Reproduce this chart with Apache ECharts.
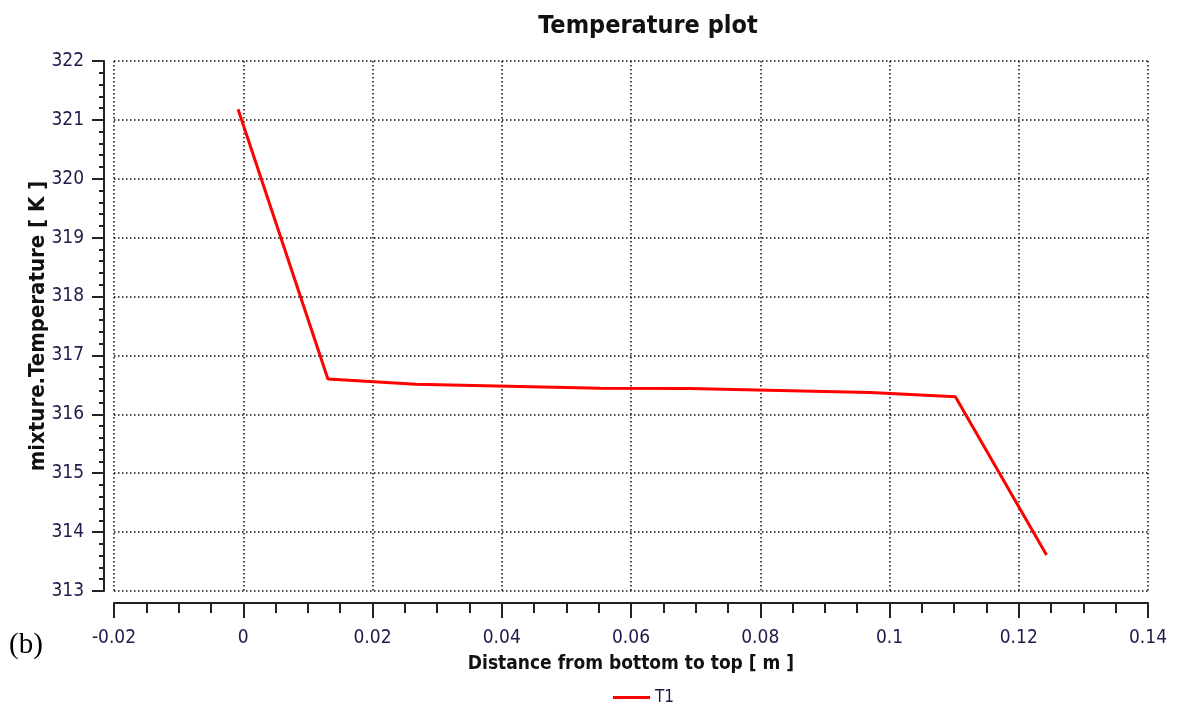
<!DOCTYPE html>
<html>
<head>
<meta charset="utf-8">
<script src="https://cdn.jsdelivr.net/npm/echarts@6/dist/echarts.min.js"></script>
<style>html,body{margin:0;padding:0;background:#fff}#c{width:1179px;height:710px}</style>
</head>
<body>
<div id="c"></div>
<script>
const distance = [-0.0008, 0.0131, 0.0267, 0.0553, 0.069, 0.097, 0.1102, 0.1243];
const temperature = [321.18, 316.60, 316.51, 316.445, 316.44, 316.37, 316.30, 313.61];
const seriesName = 'T1';
const titleText = 'Temperature plot';
const xName = 'Distance from bottom to top [ m ]';
const yName = 'mixture.Temperature [ K ]';
const panelLabel = '(b)';

const narrow = "'Liberation Sans Narrow', 'DejaVu Sans Condensed', sans-serif";
const labelColor = '#1c1c4c';
const chart = echarts.init(document.getElementById('c'));
chart.setOption({
  animation: false,
  backgroundColor: '#fff',
  title: {
    text: titleText, left: 643, top: 9, textAlign: 'center',
    textStyle: {fontFamily: narrow, fontWeight: 'bold', fontSize: 25, color: '#111'}
  },
  grid: {left: 114, right: 31, top: 61, bottom: 119},
  legend: {
    left: 608, top: 684, itemWidth: 37, itemHeight: 3, icon: 'rect', itemGap: 10,
    textStyle: {fontFamily: narrow, fontSize: 17, color: labelColor},
    data: [seriesName]
  },
  graphic: [{
    type: 'text', left: 9, top: 631,
    style: {text: panelLabel, font: "29px 'Liberation Serif', serif", fill: '#000'}
  }],
  xAxis: {
    type: 'value', min: -0.02, max: 0.14, interval: 0.02, offset: 12,
    name: xName, nameLocation: 'middle', nameGap: 52, nameMoveOverlap: false,
    nameTextStyle: {fontFamily: narrow, fontWeight: 'bold', fontSize: 19, color: '#111'},
    axisLine: {show: true, onZero: false, lineStyle: {color: '#222', width: 2}},
    axisTick: {show: true, length: 15, lineStyle: {color: '#222', width: 2}},
    minorTick: {show: true, splitNumber: 4, length: 10, lineStyle: {color: '#222', width: 2}},
    axisLabel: {margin: 26, fontFamily: narrow, fontSize: 19, color: labelColor,
      formatter: v => String(parseFloat(v.toFixed(3)))},
    splitLine: {show: true, lineStyle: {color: '#111', type: [1.5, 2.5], width: 1.5}}
  },
  yAxis: {
    type: 'value', min: 313, max: 322, interval: 1, offset: 10,
    name: yName, nameLocation: 'middle', nameGap: 55, nameRotate: 90, nameMoveOverlap: false,
    nameTextStyle: {fontFamily: narrow, fontWeight: 'bold', fontSize: 22, color: '#111'},
    axisLine: {show: true, onZero: false, lineStyle: {color: '#222', width: 2}},
    axisTick: {show: true, length: 12, lineStyle: {color: '#222', width: 2}},
    minorTick: {show: true, splitNumber: 5, length: 5, lineStyle: {color: '#222', width: 2}},
    axisLabel: {margin: 20, fontFamily: narrow, fontSize: 19, color: labelColor},
    splitLine: {show: true, lineStyle: {color: '#111', type: [1.5, 2.5], width: 1.5}}
  },
  series: [{
    name: seriesName, type: 'line', showSymbol: false, symbol: 'none',
    data: distance.map((d, i) => [d, temperature[i]]),
    lineStyle: {color: '#ff0000', width: 3},
    itemStyle: {color: '#ff0000'}
  }]
});
</script>
</body>
</html>
